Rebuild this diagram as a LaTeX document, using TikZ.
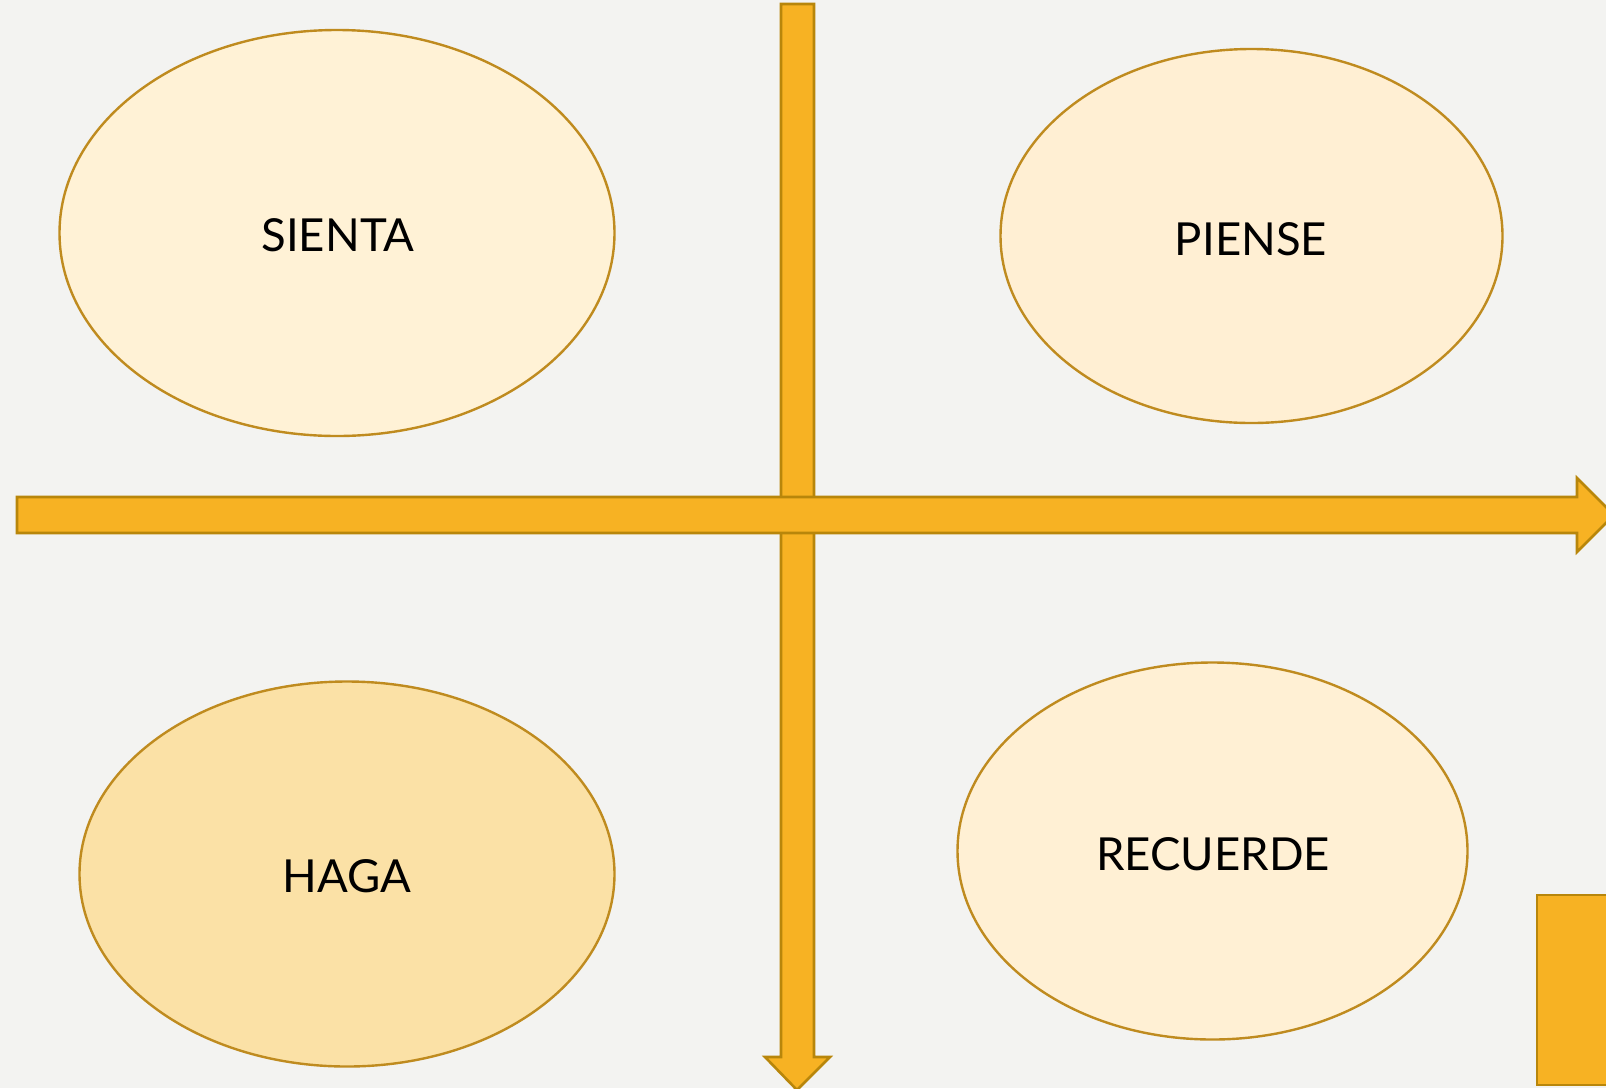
\documentclass[tikz,border=0pt]{standalone}
\usepackage{fontspec}
\setmainfont{Lato}
\usetikzlibrary{shapes.geometric}
\definecolor{bg}{HTML}{F3F3F1}
\definecolor{arrowfill}{HTML}{F7B223}
\definecolor{arrowline}{HTML}{B8860B}
\definecolor{ellline}{HTML}{BF8B1F}
\definecolor{fillA}{HTML}{FFF2D6}
\definecolor{fillB}{HTML}{FFEFD3}
\definecolor{fillC}{HTML}{FBE1A6}
\definecolor{fillD}{HTML}{FFF0D4}
\tikzset{
  bigarrow/.style={fill=arrowfill, draw=arrowline, line width=2.6pt, line join=miter},
  oval/.style={ellipse, draw=ellline, line width=2.4pt, inner sep=0pt,
    font=\fontsize{45.5}{52}\selectfont, text=black, text depth=0pt}
}
\begin{document}
\begin{tikzpicture}[x=1pt,y=-1pt]
\fill[bg] (0,0) rectangle (1606,1088);
\useasboundingbox (0,0) rectangle (1606,1088);
% vertical arrow
\draw[bigarrow] (781,4) -- (814,4) -- (814,1057) -- (830,1057) -- (797,1090) -- (765,1057) -- (781,1057) -- cycle;
% horizontal arrow
\draw[bigarrow] (17,497) -- (1577,497) -- (1577,478) -- (1614,515) -- (1577,552) -- (1577,533) -- (17,533) -- cycle;
% bottom-right rectangle
\draw[bigarrow] (1537,895) rectangle (1620,1085);
% ellipses
\node[oval, fill=fillA, minimum width=555pt, minimum height=406pt] (sienta) at (337,233) {};
\node[oval, fill=fillB, minimum width=502pt, minimum height=374pt] (piense) at (1251.5,236) {};
\node[oval, fill=fillC, minimum width=535pt, minimum height=385pt] (haga) at (347,874) {};
\node[oval, fill=fillD, minimum width=510pt, minimum height=377pt] (recuerde) at (1212.5,851) {};
% labels
\node[font=\fontsize{45.5}{52}\selectfont] (tA) at (338,235) {SIENTA};
\node[font=\fontsize{45.5}{52}\selectfont] (tB) at (1251,239) {PIENSE};
\node[font=\fontsize{45.5}{52}\selectfont] (tC) at (347,876) {HAGA};
\node[font=\fontsize{45.5}{52}\selectfont] (tD) at (1213,854) {RECUERDE};
\end{tikzpicture}
\end{document}
